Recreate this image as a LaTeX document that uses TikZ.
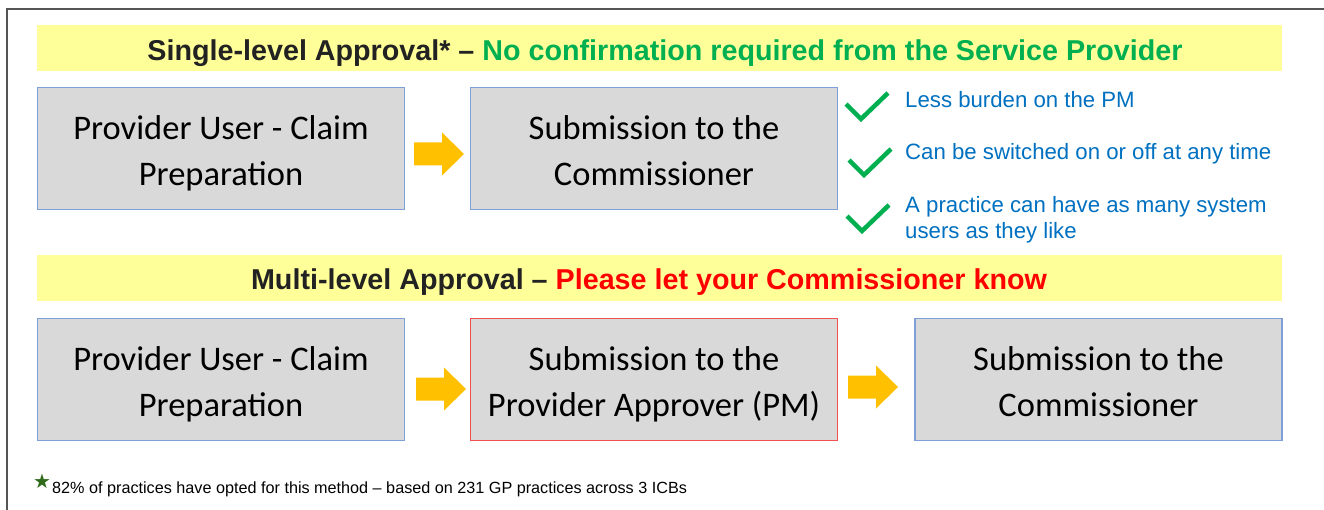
\documentclass[tikz,border=0pt]{standalone}
\usepackage{fontspec}
\setmainfont{Liberation Sans}
\newfontfamily\boxfont{Carlito}
\newfontfamily\symfont{DejaVu Sans}
\usetikzlibrary{calc}
\newcommand\boxstrut{\rule[-8pt]{0pt}{44pt}}
\definecolor{banner}{HTML}{FFFF99}
\definecolor{okgreen}{HTML}{00B050}
\definecolor{txtblue}{HTML}{0070C0}
\definecolor{boxfill}{HTML}{D9D9D9}
\definecolor{boxblue}{HTML}{7F9FD8}
\definecolor{boxred}{HTML}{F05050}
\definecolor{arrowc}{HTML}{FFC000}
\definecolor{framec}{HTML}{555555}
\definecolor{titlec}{HTML}{222222}
\definecolor{stargreen}{HTML}{2F6B1A}
\tikzset{
  bannerbox/.style={fill=banner, draw=none, minimum width=1245pt, minimum height=46pt, inner sep=0pt},
  titletext/.style={font=\fontsize{28.7}{32}\selectfont\bfseries, text=titlec, inner sep=0pt},
  stepbox/.style={fill=boxfill, draw=boxblue, line width=1.2pt, minimum width=367pt, minimum height=122pt, inner sep=0pt,
     align=center, font=\boxfont\fontsize{34.5}{45.5}\selectfont, text=black},
  redbox/.style={stepbox, draw=boxred},
  bluetext/.style={font=\fontsize{22.2}{25.5}\selectfont, text=txtblue, anchor=west, align=left, inner sep=0pt},
  blockarrow/.pic={\fill[arrowc] (-25,-11.5) -- (3,-11.5) -- (3,-21.5) -- (25,0) -- (3,21.5) -- (3,11.5) -- (-25,11.5) -- cycle;},
  checkmark/.pic={\draw[okgreen, line width=4.5pt, line join=miter] (-21,-4) -- (-6,11) -- (21,-15);},
}
\begin{document}
\begin{tikzpicture}[x=1pt,y=-1pt]
\useasboundingbox (0,0) rectangle (1324,510);
% frame
\draw[framec, line width=1.6pt] (7,510) -- (7,9) -- (1324,9);

% banner 1
\node[bannerbox] (ban1) at (659.5,48) {};
\node[titletext] (t1) at (665,53) {Single-level Approval* -- \textcolor{okgreen}{No confirmation required from the Service Provider}};

% row 1
\node[stepbox] (s1) at (221,148.5) {\boxstrut Provider User - Claim\\\boxstrut Preparation};
\node[stepbox] (s2) at (654,148.5) {\boxstrut Submission to the\\\boxstrut Commissioner};
\pic at (439,154) {blockarrow};

% checks
\pic at (867,108) {checkmark};
\pic at (870,164) {checkmark};
\pic at (868,220) {checkmark};
\node[bluetext] (c1) at (905,100) {Less burden on the PM};
\node[bluetext] (c2) at (905,153.5) {Can be switched on or off at any time};
\node[bluetext] (c3) at (905,220) {A practice can have as many system\\users as they like};

% banner 2
\node[bannerbox] (ban2) at (659.5,278.5) {};
\node[titletext] (t2) at (649,282) {Multi-level Approval -- \textcolor{red}{Please let your Commissioner know}};

% row 2
\node[stepbox] (m1) at (221,379.5) {\boxstrut Provider User - Claim\\\boxstrut Preparation};
\node[redbox] (m2) at (654,379.5) {\boxstrut Submission to the\\\boxstrut Provider Approver (PM)};
\node[stepbox] (m3) at (1098.5,379.5) {\boxstrut Submission to the\\\boxstrut Commissioner};
\pic at (441,389) {blockarrow};
\pic at (873,387) {blockarrow};

% footnote
\node[font=\symfont\fontsize{20}{20}\selectfont, text=stargreen, inner sep=0pt] (star) at (42,481) {★};
\node[font=\fontsize{16.2}{18}\selectfont, anchor=west, inner sep=0pt] (fn) at (52,489) {82\% of practices have opted for this method -- based on 231 GP practices across 3 ICBs};
\end{tikzpicture}
\end{document}
